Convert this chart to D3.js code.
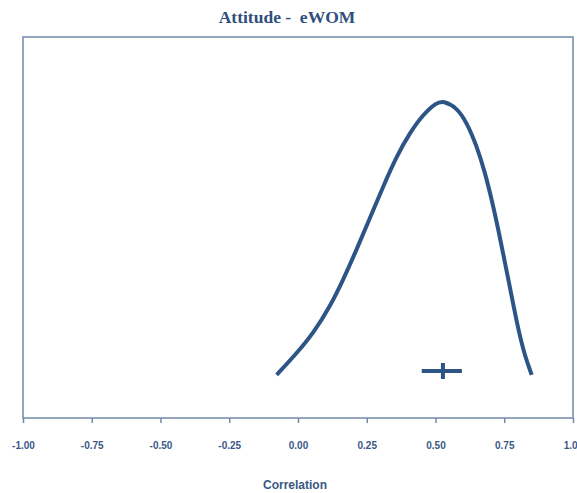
<!DOCTYPE html>
<html>
<head>
<meta charset="utf-8">
<script src="https://cdn.jsdelivr.net/npm/d3@7"></script>
<style>
  html, body { margin: 0; padding: 0; background: #ffffff; }
  svg { display: block; }
</style>
</head>
<body>
<svg id="chart" width="577" height="493"></svg>
<script>
// Correlation values along the distribution curve
const curveR = [-0.0775, -0.0047, 0.0556, 0.1164, 0.1647, 0.2135, 0.2618, 0.3102, 0.3589, 0.4073, 0.4556, 0.5044, 0.5284,
                0.5771, 0.6135, 0.6498, 0.6800, 0.7044, 0.7284, 0.7527, 0.7771, 0.8011, 0.8255, 0.8498];
// Relative density at each correlation value
const curveDensity = [0.136, 0.204, 0.267, 0.351, 0.436, 0.531, 0.631, 0.730, 0.825, 0.899, 0.957, 0.994, 0.999,
                      0.978, 0.931, 0.857, 0.773, 0.688, 0.594, 0.489, 0.383, 0.278, 0.194, 0.136];
// Summary estimate with its confidence interval
const pointEstimate = [0.527];
const ciBounds = [0.45, 0.596];
// Axis tick values and labels
const tickValues = [-1.00, -0.75, -0.50, -0.25, 0.00, 0.25, 0.50, 0.75, 1.00];
const tickLabels = ["-1.00", "-0.75", "-0.50", "-0.25", "0.00", "0.25", "0.50", "0.75", "1.00"];
const chartTitle = "Attitude -  eWOM";
const axisTitle = "Correlation";

const svg = d3.select("#chart");
const plotLeft = 23, plotRight = 573, plotTop = 37, plotBottom = 418;
const ink = "#2c5585";
const frameColor = "#7189ab";
const textColor = "#3a5886";

const x = d3.scaleLinear().domain([-1, 1]).range([plotLeft, plotRight]);
const y = d3.scaleLinear().domain([0, 1.2]).range([plotBottom, plotTop]);

// Plot frame
svg.append("rect")
  .attr("x", plotLeft).attr("y", plotTop)
  .attr("width", plotRight - plotLeft).attr("height", plotBottom - plotTop)
  .attr("fill", "none")
  .attr("stroke", frameColor)
  .attr("stroke-width", 1.5);

// X axis ticks and labels
const axis = d3.axisBottom(x)
  .tickValues(tickValues)
  .tickSize(5)
  .tickSizeOuter(0)
  .tickFormat((d, i) => tickLabels[i]);
const gAxis = svg.append("g")
  .attr("transform", `translate(0,${plotBottom})`)
  .call(axis);
gAxis.select(".domain").remove();
gAxis.selectAll(".tick line").attr("stroke", frameColor).attr("stroke-width", 1.5);
gAxis.selectAll(".tick text")
  .attr("y", 31)
  .attr("dy", 0)
  .attr("fill", textColor)
  .attr("font-family", "Liberation Sans, Arial, sans-serif")
  .attr("font-weight", "bold")
  .attr("font-size", "10px");

// Title
svg.append("text")
  .attr("x", 287).attr("y", 23)
  .attr("text-anchor", "middle")
  .attr("fill", "#2f4e7e")
  .attr("font-family", "Liberation Serif, 'Times New Roman', serif")
  .attr("font-weight", "bold")
  .attr("font-size", "17.5px")
  .style("white-space", "pre")
  .text(chartTitle);

// Axis title
svg.append("text")
  .attr("x", 295).attr("y", 489)
  .attr("text-anchor", "middle")
  .attr("fill", textColor)
  .attr("font-family", "Liberation Sans, Arial, sans-serif")
  .attr("font-weight", "bold")
  .attr("font-size", "12px")
  .text(axisTitle);

// Distribution curve, smoothed through the sampled points
const pts = curveR.map((r, i) => [r, curveDensity[i]]);
const line = d3.line()
  .x(d => x(d[0]))
  .y(d => y(d[1]))
  .curve(d3.curveBasis);
svg.append("path")
  .datum(pts)
  .attr("d", line)
  .attr("fill", "none")
  .attr("stroke", ink)
  .attr("stroke-width", 4);

// Point estimate marker with confidence interval
const crossLevel = 0.148;
const cy = y(crossLevel);
svg.append("line")
  .attr("x1", x(ciBounds[0])).attr("x2", x(ciBounds[1]))
  .attr("y1", cy).attr("y2", cy)
  .attr("stroke", ink).attr("stroke-width", 4);
svg.append("line")
  .attr("x1", x(pointEstimate[0])).attr("x2", x(pointEstimate[0]))
  .attr("y1", cy - 8).attr("y2", cy + 8)
  .attr("stroke", ink).attr("stroke-width", 4);
</script>
</body>
</html>
